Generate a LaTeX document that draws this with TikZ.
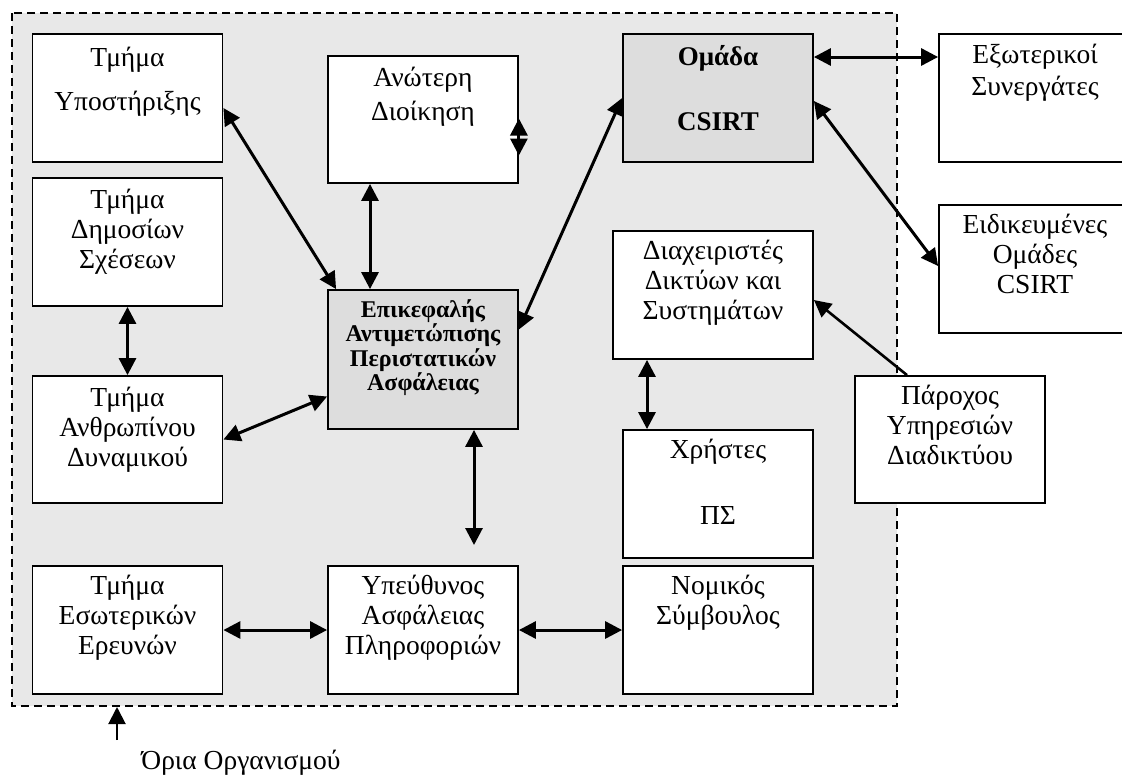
\documentclass[tikz,border=0pt]{standalone}
\usepackage{fontspec}
\setmainfont{Liberation Serif}
\usetikzlibrary{arrows.meta,positioning}
\definecolor{fondorg}{RGB}{232,232,232}
\definecolor{fondgris}{RGB}{221,221,221}
\begin{document}
\begin{tikzpicture}[x=1pt,y=-1pt]
\tikzstyle{boite} = [draw,line width=1.8pt,fill=white,inner sep=0pt,minimum width=190pt,minimum height=128pt]
\tikzstyle{boitegrise} = [boite,fill=fondgris]
\tikzstyle{texte} = [align=center,inner sep=0pt,font=\fontsize{27.5}{30}\selectfont]
\tikzstyle{textegras} = [align=center,inner sep=0pt,font=\fontsize{24}{24.5}\selectfont\bfseries]
\tikzstyle{fleche} = [line width=3pt,{Triangle[length=17pt,width=17pt]}-{Triangle[length=17pt,width=17pt]}]
\tikzstyle{flechesimple} = [line width=2.6pt,-{Triangle[length=17pt,width=17pt]}]
\useasboundingbox (0,0) rectangle (1122,774);
%limites de l'organisme
\draw[dash pattern=on 8pt off 5pt,line width=1.5pt,fill=fondorg] (12,13) rectangle (897,706);
%colonne de gauche
\node[boite] (sup) at (127.5,98) {};
\node[texte,below=14pt of sup.north] (supt) {Τμήμα\\[14pt]Υποστήριξης};
\node[boite] (dim) at (127.5,242) {};
\node[texte,below=12pt of dim.north] (dimt) {Τμήμα\\Δημοσίων\\Σχέσεων};
\node[boite,minimum height=127pt] (anth) at (127.5,439.5) {};
\node[texte,below=12pt of anth.north] (antht) {Τμήμα\\Ανθρωπίνου\\Δυναμικού};
\node[boite] (esot) at (127.5,630) {};
\node[texte,below=10pt of esot.north] (esott) {Τμήμα\\Εσωτερικών\\Ερευνών};
%colonne du milieu
\node[boite,minimum height=127pt] (dio) at (423,119.5) {};
\node[texte,below=12pt of dio.north] (diot) {Ανώτερη\\[4pt]Διοίκηση};
\node[boitegrise,minimum height=139pt] (epik) at (423,359.5) {};
\node[textegras,below=10pt of epik.north] (epikt) {Επικεφαλής\\Αντιμετώπισης\\Περιστατικών\\Ασφάλειας};
\node[boite] (ypef) at (423,630) {};
\node[texte,below=10pt of ypef.north] (ypeft) {Υπεύθυνος\\Ασφάλειας\\Πληροφοριών};
%colonne de droite
\node[boitegrise] (csirt) at (718,98) {};
\node[texte,font=\fontsize{27}{30}\selectfont\bfseries,below=12pt of csirt.north] (csirtt) {Ομάδα\\[35pt]CSIRT};
\node[boite,minimum width=200pt] (diax) at (713,295) {};
\node[texte,below=10pt of diax.north] (diaxt) {Διαχειριστές\\Δικτύων και\\Συστημάτων};
\node[boite] (xrist) at (718,494) {};
\node[texte,below=10pt of xrist.north] (xristt) {Χρήστες\\[36pt]ΠΣ};
\node[boite] (nom) at (718,630) {};
\node[texte,below=10pt of nom.north] (nomt) {Νομικός\\Σύμβουλος};
%partenaires externes
\node[boite,minimum width=200pt] (exo) at (1039,98) {};
\node[texte,below=11pt of exo.north,xshift=-4pt] (exot) {Εξωτερικοί\\[2pt]Συνεργάτες};
\node[boite,minimum width=200pt] (eid) at (1039,269) {};
\node[texte,below=10pt of eid.north,xshift=-4pt] (eidt) {Ειδικευμένες\\Ομάδες\\CSIRT};
\node[boite,minimum height=127pt] (par) at (950,439.5) {};
\node[texte,below=10pt of par.north] (part) {Πάροχος\\Υπηρεσιών\\Διαδικτύου};
%tracer les flèches
\draw[fleche] ([yshift=-10pt]sup.east) -- ([xshift=9pt]epik.north west);
\draw[fleche] ([xshift=-53pt]dio.south) -- ([xshift=-53pt]epik.north);
\draw[fleche] ([yshift=1pt]dio.east) -- ([yshift=-36pt]dio.east);
\draw[fleche] ([yshift=30pt]epik.east) -- (csirt.west);
\draw[fleche] ([yshift=41pt]csirt.east) -- ([yshift=41pt]exo.west);
\draw[fleche] ([yshift=-3pt]csirt.east) -- ([yshift=3pt]eid.west);
\draw[fleche] (dim.south) -- (anth.north);
\draw[fleche] (anth.east) -- ([yshift=-37pt]epik.west);
\coordinate (finbas) at (474,545);
\draw[fleche] ([xshift=51pt]epik.south) -- (finbas);
\draw[fleche] (esot.east) -- (ypef.west);
\draw[fleche] (ypef.east) -- (nom.west);
\draw[fleche] ([xshift=-66pt]diax.south) -- ([xshift=-71pt]xrist.north);
\draw[flechesimple] ([xshift=-43pt]par.north) -- ([yshift=-5pt]diax.east);
%limites
\coordinate (oriabas) at (117,740);
\coordinate (oriahaut) at (117,707);
\draw[flechesimple,line width=2pt] (oriabas) -- (oriahaut);
\node[texte] (oria) at (241,763) {Όρια Οργανισμού};
\end{tikzpicture}
\end{document}
